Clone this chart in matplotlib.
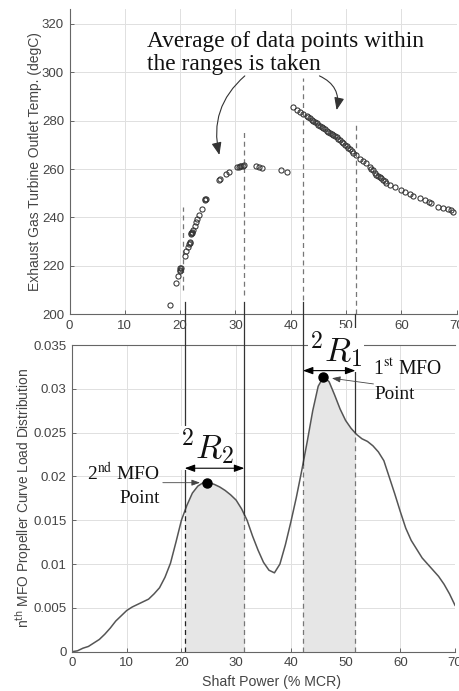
import numpy as np
import matplotlib
matplotlib.use("Agg")
import matplotlib.pyplot as plt

# ---------------- data ----------------
# Exhaust gas turbine outlet temperature vs shaft power (scatter)
egt_x = [18.2, 19.3, 19.7, 19.9, 20.0, 20.0, 20.1, 20.8, 21.1, 21.4, 21.55, 21.7,
         21.7, 22.0, 22.0, 22.1, 22.2, 22.4, 22.7, 22.9, 23.1, 23.4, 23.9, 24.5,
         24.55, 24.6, 27.0, 27.2, 28.3, 28.9, 30.2, 30.6, 30.9, 31.1, 31.3, 31.5,
         33.7, 34.3, 34.9, 38.2, 39.4,
         40.5, 41.1, 41.7, 42.3, 42.9, 43.2, 43.5, 43.8, 44.1, 44.4, 44.7, 45.0,
         45.3, 45.6, 45.9, 46.2, 46.5, 46.8, 47.1, 47.4, 47.7, 48.0, 48.3, 48.6,
         48.9, 49.2, 49.5, 49.8, 50.1, 50.4, 50.7, 51.0, 51.3, 51.8, 52.5, 53.1,
         53.7, 54.3, 54.6, 54.9, 55.2, 55.5, 55.8, 56.1, 56.4, 56.7, 57.0, 57.3,
         57.9, 58.8, 60.0, 60.6, 61.5, 62.1, 63.3, 64.2, 65.1, 65.4, 66.6, 67.5,
         68.4, 68.9, 69.3]
egt_y = [203.9, 213.1, 216.0, 218.1, 219.0, 218.5, 219.3, 224.1, 226.2, 227.9, 229.2, 229.9,
         229.4, 233.2, 233.6, 233.8, 234.1, 235.0, 236.4, 238.2, 239.5, 240.9, 243.5, 247.1,
         247.5, 247.8, 255.5, 255.8, 257.8, 258.7, 260.7, 261.0, 261.1, 261.2, 261.4, 261.5,
         261.2, 260.9, 260.5, 259.6, 258.8,
         285.4, 284.3, 283.4, 282.7, 281.8, 281.4, 280.9, 280.4, 279.9, 279.3, 278.8, 278.3,
         277.7, 277.3, 276.8, 276.3, 275.8, 275.4, 275.0, 274.5, 274.0, 273.5, 273.0, 272.5,
         271.9, 271.3, 270.6, 270.1, 269.5, 268.8, 268.1, 267.4, 266.7, 265.8, 264.0, 263.1,
         262.4, 260.7, 260.1, 259.4, 258.5, 257.6, 257.1, 256.6, 256.1, 255.5, 255.0, 254.4,
         253.5, 252.4, 251.4, 250.7, 249.8, 248.7, 248.0, 247.3, 246.3, 246.0, 244.5, 244.1,
         243.6, 243.0, 242.2]

# nth MFO propeller curve load distribution
load_x = list(range(0, 71))
load_y = [0.0000, 0.0001, 0.0004, 0.0006, 0.0010, 0.0014, 0.0020, 0.0027, 0.0035, 0.0041,
          0.0047, 0.0051, 0.0054, 0.0057, 0.0060, 0.0066, 0.0073, 0.0085, 0.0101, 0.0125,
          0.0150, 0.0167, 0.0181, 0.0189, 0.0193, 0.0193, 0.0191, 0.0188, 0.0184, 0.0179,
          0.0173, 0.0163, 0.0150, 0.0132, 0.0116, 0.0102, 0.0093, 0.0090, 0.0100, 0.0122,
          0.0148, 0.0176, 0.0207, 0.0240, 0.0275, 0.0303, 0.0314, 0.0308, 0.0293, 0.0277,
          0.0264, 0.0255, 0.0248, 0.0243, 0.0240, 0.0235, 0.0228, 0.0218, 0.0199, 0.0180,
          0.0160, 0.0141, 0.0127, 0.0117, 0.0107, 0.0100, 0.0093, 0.0086, 0.0077, 0.0066,
          0.0053]

x_ticks = [0, 10, 20, 30, 40, 50, 60, 70]
egt_ticks = [200, 220, 240, 260, 280, 300, 320]
load_ticks = [0, 0.005, 0.01, 0.015, 0.02, 0.025, 0.03, 0.035]
load_ticklabels = ["0", "0.005", "0.01", "0.015", "0.02", "0.025", "0.03", "0.035"]

range2 = (20.6, 31.5)   # 2R2
range1 = (42.2, 51.8)   # 2R1
mfo2 = (24.6, 0.0193)
mfo1 = (45.9, 0.0313)

SANS = "Liberation Sans"
SERIF = "Liberation Serif"
plt.rcParams["font.family"] = [SANS, "DejaVu Sans"]

fig = plt.figure(figsize=(4.6, 6.91), dpi=100)
ax1 = fig.add_axes([0.1511, 0.5449, 0.8415, 0.4421])
ax2 = fig.add_axes([0.1565, 0.05687, 0.8326, 0.4438])

spine_c = "#666666"
for ax in (ax1, ax2):
    ax.set_axisbelow(True)
    ax.grid(True, color="#e0e0e0", lw=0.7)
    ax.spines["right"].set_visible(False)
    for s in ax.spines.values():
        s.set_color(spine_c)
        s.set_linewidth(0.8)
    ax.tick_params(direction="in", length=3, width=0.7, color=spine_c,
                   labelsize=9.5, labelcolor="#444444", pad=4)
    ax.set_xlim(0, 70)
    ax.set_xticks(x_ticks)
ax1.spines["top"].set_visible(False)

# ---------------- top panel ----------------
ax1.set_ylim(200, 326)
ax1.set_yticks(egt_ticks)
ax1.plot(egt_x, egt_y, "o", mfc="none", mec="#333333", ms=3.7, mew=0.75, zorder=3)
ax1.set_ylabel("Exhaust Gas Turbine Outlet Temp. (degC)", fontsize=10, color="#444444")
ax1.yaxis.set_label_coords(-0.071, 0.5)

dash = (0, (4, 3))
top_dash = [(range2[0], 210, 244.5), (range2[1], 208, 276.5),
            (range1[0], 206, 297.5), (range1[1], 200, 279.0)]
for x, lo, hi in top_dash:
    ax1.plot([x, x], [lo, hi], ls=dash, color="#777777", lw=0.9, clip_on=False, zorder=2)

ax1.text(13.96, 310.4, "Average of data points within", family=SERIF, fontsize=16.8,
         ha="left", va="baseline", color="#111111")
ax1.text(13.96, 300.8, "the ranges is taken", family=SERIF, fontsize=16.8,
         ha="left", va="baseline", color="#111111")
aprops = dict(arrowstyle="-|>,head_length=0.75,head_width=0.3", color="#333333",
              lw=0.8, shrinkA=0, shrinkB=0, mutation_scale=10)
ax1.annotate("", xy=(27.1, 265.8), xytext=(31.7, 298.4),
             arrowprops=dict(connectionstyle="arc3,rad=0.3", **aprops))
ax1.annotate("", xy=(48.3, 284.3), xytext=(45.2, 298.4),
             arrowprops=dict(connectionstyle="arc3,rad=-0.4", **aprops))

# ---------------- bottom panel ----------------
ax2.set_ylim(0, 0.035)
ax2.set_yticks(load_ticks)
ax2.set_yticklabels(load_ticklabels)
ax2.set_xlabel("Shaft Power (% MCR)", fontsize=10.2, color="#444444")
ax2.xaxis.set_label_coords(0.521, -0.075)
ax2.set_ylabel(r"n$^{\mathrm{th}}$ MFO Propeller Curve Load Distribution", fontsize=9.9,
               color="#444444")
ax2.yaxis.set_label_coords(-0.099, 0.5)

for (a, b) in (range2, range1):
    xs = [a] + [x for x in load_x if a < x < b] + [b]
    ys = np.interp(xs, load_x, load_y)
    ax2.fill_between(xs, 0, ys, color="#e6e6e6", lw=0, zorder=1)

ax2.plot(load_x, load_y, color="#555555", lw=1.1, zorder=2.5)

bound_tops = {range2[0]: 0.0399, range2[1]: 0.0399, range1[0]: 0.0399, range1[1]: 0.0385}
bound_dash_col = {range2[0]: "#222222", range2[1]: "#777777",
                  range1[0]: "#777777", range1[1]: "#777777"}
for x in (range2[0], range2[1], range1[0], range1[1]):
    yc = float(np.interp(x, load_x, load_y))
    ax2.plot([x, x], [yc, bound_tops[x]], color="#333333", lw=0.9, clip_on=False, zorder=3)
    ax2.plot([x, x], [0, yc], ls=dash, color=bound_dash_col[x], lw=0.9, zorder=3)

rprops = dict(arrowstyle="<|-|>,head_length=0.6,head_width=0.22", color="k", lw=0.8,
              shrinkA=0, shrinkB=0, mutation_scale=10)
ax2.annotate("", xy=(range2[1], 0.02094), xytext=(range2[0], 0.02094),
             arrowprops=rprops, annotation_clip=False, zorder=6)
ax2.annotate("", xy=(range1[1], 0.03208), xytext=(range1[0], 0.03208),
             arrowprops=rprops, annotation_clip=False, zorder=6)

ax2.text(19.74, 0.0220, r"${}^2R_2$", fontsize=24.5, math_fontfamily="cm",
         ha="left", va="baseline", color="#111111", zorder=5, clip_on=False,
         bbox=dict(fc="white", ec="none", pad=1))
ax2.text(43.3, 0.0331, r"${}^2R_1$", fontsize=24.5, math_fontfamily="cm",
         ha="left", va="baseline", color="#111111", zorder=5, clip_on=False,
         bbox=dict(fc="white", ec="none", pad=1))

ax2.plot([mfo2[0], mfo1[0]], [mfo2[1], mfo1[1]], "o", ls="none", color="k", ms=6.5, zorder=7)

ax2.text(16.1, 0.0196, r"2$^{\mathrm{nd}}$ MFO", family=SERIF, math_fontfamily="stix",
         fontsize=14, ha="right", va="baseline", color="#111111")
ax2.text(16.1, 0.0170, "Point", family=SERIF, fontsize=13.8, ha="right", va="baseline",
         color="#111111")
ax2.text(55.0, 0.0316, r"1$^{\mathrm{st}}$ MFO", family=SERIF, math_fontfamily="stix",
         fontsize=14.2, ha="left", va="baseline", color="#111111")
ax2.text(55.3, 0.02885, "Point", family=SERIF, fontsize=13.8, ha="left", va="baseline",
         color="#111111")

mprops = dict(arrowstyle="-|>,head_length=0.5,head_width=0.18", color="#444444", lw=0.6,
              shrinkA=0, shrinkB=0, mutation_scale=10)
ax2.annotate("", xy=(23.4, 0.01929), xytext=(16.6, 0.01929), arrowprops=mprops, zorder=6)
ax2.annotate("", xy=(47.5, 0.03121), xytext=(55.1, 0.03056), arrowprops=mprops, zorder=6)

fig.savefig("out.png", dpi=100)
